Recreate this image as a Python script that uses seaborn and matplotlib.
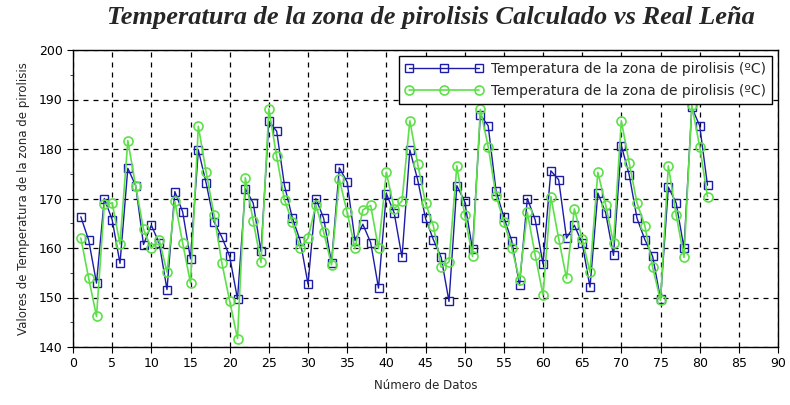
import matplotlib
matplotlib.use("Agg")
import matplotlib.pyplot as plt
import seaborn as sns
import pandas as pd
import numpy as np
from matplotlib.ticker import MultipleLocator

calculado = [166.3, 161.6, 152.9, 170.0, 165.7, 156.9, 176.1, 172.6, 160.7, 164.6,
             161.0, 151.6, 171.4, 167.3, 157.8, 179.8, 173.1, 165.3, 162.2, 158.3,
             149.7, 172.0, 169.1, 159.3, 185.6, 183.6, 172.6, 166.1, 161.5, 152.7,
             170.0, 166.0, 157.0, 176.2, 173.3, 161.5, 164.8, 161.1, 151.9, 171.0,
             167.1, 158.1, 179.8, 173.8, 166.0, 161.7, 158.1, 149.2, 172.6, 169.4,
             159.7, 186.9, 184.7, 171.6, 166.2, 161.5, 152.5, 170.0, 165.7, 156.8,
             175.6, 173.8, 162.0, 164.6, 161.0, 152.1, 171.1, 167.1, 158.5, 180.7,
             174.8, 166.0, 161.7, 158.3, 149.7, 172.3, 169.1, 160.0, 188.4, 184.7,
             172.7]
real = [162.0, 153.9, 146.2, 168.8, 169.1, 160.8, 181.7, 172.5, 163.8, 159.9,
        161.7, 155.1, 169.4, 161.0, 152.9, 184.6, 175.3, 166.7, 157.0, 149.3,
        141.7, 174.2, 165.5, 157.1, 188.1, 178.5, 169.7, 165.2, 159.9, 162.0,
        168.7, 163.2, 156.6, 173.9, 167.2, 159.9, 167.7, 168.6, 159.9, 175.3,
        167.9, 169.5, 185.7, 177.0, 169.1, 164.5, 156.1, 157.2, 176.6, 166.7,
        158.3, 188.0, 180.5, 170.6, 165.3, 160.1, 153.6, 167.2, 158.6, 150.5,
        170.4, 161.9, 153.9, 167.9, 161.8, 155.1, 175.3, 168.7, 161.0, 185.7,
        177.2, 169.1, 164.5, 156.1, 149.4, 176.6, 166.7, 158.1, 188.8, 180.5,
        170.4]
datos = list(range(1, len(calculado) + 1))
label = "Temperatura de la zona de pirolisis (ºC)"

sns.set_style("white")
plt.rcParams['font.family'] = ['DejaVu Sans']

fig = plt.figure(figsize=(7.9, 4.05), dpi=100)
ax = fig.add_axes([73/790, 1 - 347/405, (778-73)/790, (347-50)/405])

df = pd.DataFrame({"x": datos, "calc": calculado, "real": real})
sns.lineplot(data=df, x="x", y="calc", ax=ax, color="#1c1ca8", lw=1.0,
             marker="s", markersize=6, markerfacecolor="none",
             markeredgecolor="#1c1ca8", markeredgewidth=1.0, label=label)
sns.lineplot(data=df, x="x", y="real", ax=ax, color="#5ee04a", lw=1.2,
             marker="o", markersize=6.5, markerfacecolor="none",
             markeredgecolor="#5ee04a", markeredgewidth=1.2, label=label)

ax.set_xlim(0, 90)
ax.set_ylim(140, 200)
ax.xaxis.set_major_locator(MultipleLocator(5))
ax.yaxis.set_major_locator(MultipleLocator(10))
ax.yaxis.set_minor_locator(MultipleLocator(5))
ax.grid(True, which="major", color="black", linestyle=(0, (4, 4)), linewidth=0.9)
ax.tick_params(axis="both", which="major", labelsize=9, length=4, direction="out",
               bottom=True, left=True, colors="black")
ax.tick_params(axis="y", which="minor", length=2.5, left=True)
for s in ax.spines.values():
    s.set_color("black")
    s.set_linewidth(1.0)

ax.set_xlabel("Número de Datos", fontsize=8.5, labelpad=6)
ax.set_ylabel("Valores de Temperatura de la zona de pirolisis", fontsize=8.5, labelpad=6)
fig.suptitle("Temperatura de la zona de pirolisis Calculado vs Real Leña",
             x=0.545, y=0.985, fontsize=19, fontweight="bold", fontstyle="italic",
             family="Liberation Serif")

leg = ax.legend(loc="upper right", fontsize=10, frameon=True, fancybox=False,
                edgecolor="black", borderaxespad=0.4, handlelength=5.6,
                numpoints=3, framealpha=1, borderpad=0.45, labelspacing=0.6,
                handletextpad=0.6)
leg.get_frame().set_linewidth(1.0)

fig.savefig("out.png", dpi=100)
